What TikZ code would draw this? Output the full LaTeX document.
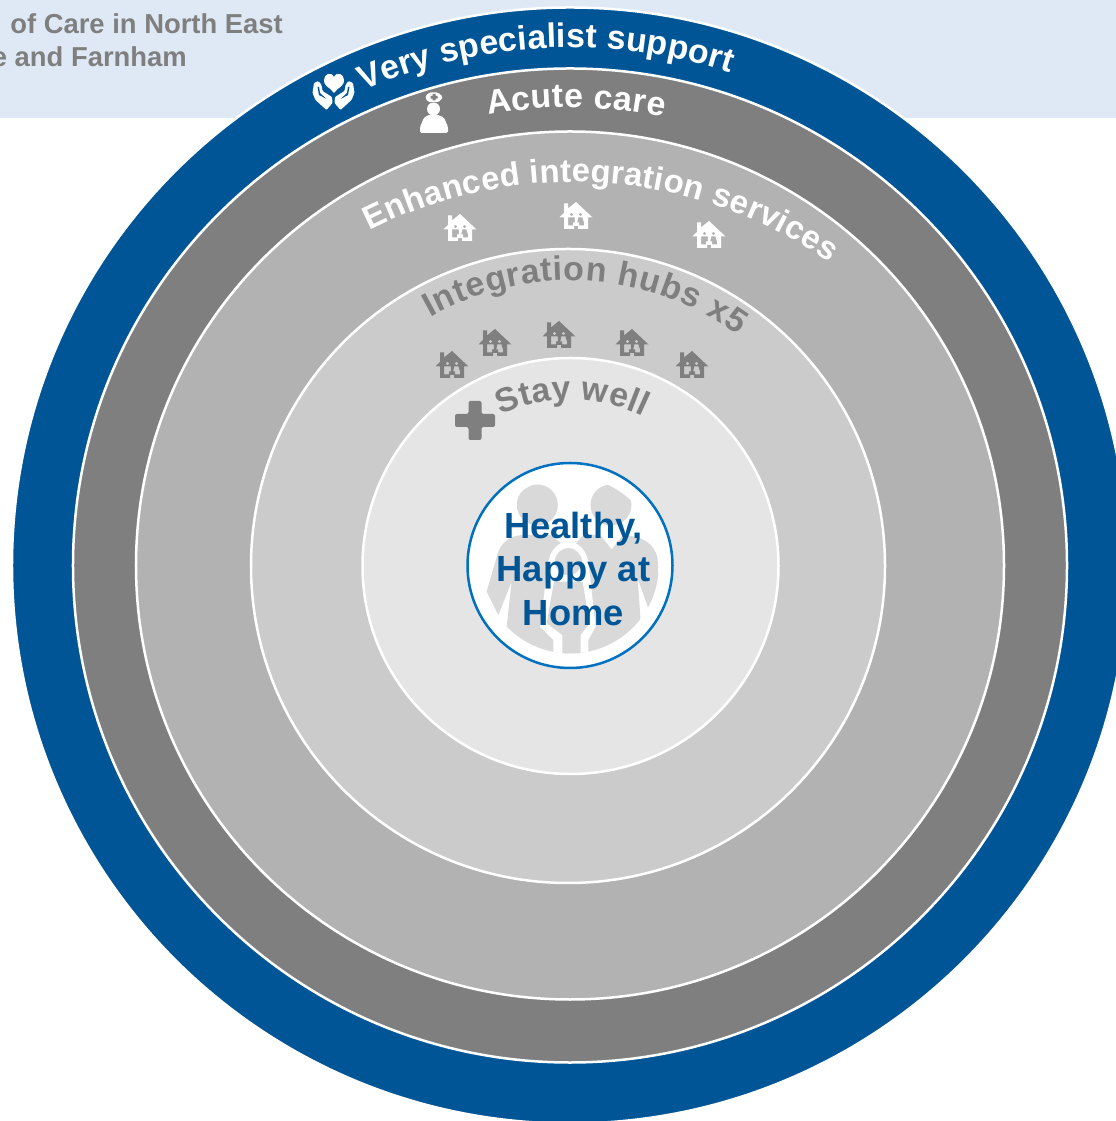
\documentclass[tikz,border=0pt]{standalone}
\usepackage{fontspec}
\setmainfont{Liberation Sans}
\usetikzlibrary{decorations.text}
\definecolor{bandblue}{HTML}{DFE9F5}
\definecolor{deepblue}{HTML}{005596}
\definecolor{edgeblue}{HTML}{0070C0}
\definecolor{acutegrey}{HTML}{7F7F7F}
\definecolor{enhancedgrey}{HTML}{B2B2B2}
\definecolor{hubgrey}{HTML}{CBCBCB}
\definecolor{staygrey}{HTML}{E5E5E5}
\definecolor{peoplegrey}{HTML}{D9D9D9}
\newcommand{\ringfont}{\fontsize{34}{34}\selectfont\bfseries}
\newcommand{\enhancedfont}{\fontsize{33}{33}\selectfont\bfseries}
\newcommand{\homeicon}[3]{%
  \fill[#3,even odd rule,shift={(#1bp,#2bp)},x=1bp,y=1bp]
    (-12,0) -- (-12,11.5) -- (-16.5,11.5) -- (-12,16) -- (-12,25.5) -- (-8,25.5) -- (-8,20.5) -- (0,27)
    -- (16.5,11.5) -- (12,11.5) -- (12,0) -- (2,0) -- (2,3) -- (-2,3) -- (-2,0) -- cycle
    (-4.5,14.5) circle (1.9bp) (4.5,14.5) circle (1.9bp)
    (-8,3.5) -- (-8,11.5) -- (-1.2,11.5) -- (-1.2,6.5) -- (-3,6.5) -- (-3,3.5) -- cycle
    (8,3.5) -- (8,6.5) -- (6.5,11.5) -- (2.2,11.5) -- (1.2,6.5) -- (3,6.5) -- (3,3.5) -- cycle;}
\tikzset{
  ring/.style={circle,draw=white,line width=2.5bp,inner sep=0pt,minimum size=#1},
  ringtext/.style={decorate,shift={(hub)}},
}
\begin{document}
\begin{tikzpicture}[x=1bp,y=1bp]
\useasboundingbox (0,0) rectangle (1116,1121);
\fill[bandblue] (0,1003) rectangle (1116,1121);
\node (note_a) at (283,1087) [anchor=base east,inner sep=0pt,text=acutegrey,font=\fontsize{27.5}{27.5}\selectfont\bfseries] {of Care in North East};
\node (note_b) at (187,1054) [anchor=base east,inner sep=0pt,text=acutegrey,font=\fontsize{27.5}{27.5}\selectfont\bfseries] {e and Farnham};
%%
\coordinate (hub) at (570,555.5);
\node (ring_special) at (hub) [ring=1116bp,fill=deepblue] {};
\node (ring_acute) at (hub) [ring=994bp,fill=acutegrey] {};
\node (ring_enhanced) at (hub) [ring=868bp,fill=enhancedgrey] {};
\node (ring_hubs) at (568,555) [ring=634bp,fill=hubgrey] {};
\node (ring_stay) at (570.5,555) [ring=416bp,fill=staygrey] {};
\node (ring_home) at (hub) [circle,draw=edgeblue,line width=2.5bp,fill=white,inner sep=0pt,minimum size=205bp] {};
%% people behind the home text
\begin{scope}[shift={(450,671)},x=0.3333bp,y=-0.3333bp]
\clip (361,345) circle (88.5bp);
\fill[peoplegrey] (262,165) circle (20.5bp) (483,165) circle (20.5bp);
\fill[peoplegrey] (110,425) -- (145,305) .. controls (160,268) and (190,255) .. (225,255) -- (300,255) -- (360,300) -- (360,630) -- (150,630) -- (170,530) -- (185,395) -- (145,495) -- cycle;
\fill[peoplegrey] (632,420) -- (622,320) .. controls (610,285) and (590,262) .. (520,255) -- (485,298) -- (450,255) -- (400,255) -- (360,300) -- (360,630) -- (580,630) -- (563,385) -- (597,480) -- cycle;
\fill[white] (310,630) -- (310,570) -- (270,530) -- (293,350) .. controls (300,250) and (410,250) .. (417,350) -- (437,530) -- (415,570) -- (415,630) -- cycle;
\fill[peoplegrey] (355,335) circle (13.5bp);
\fill[peoplegrey] (312,395) -- (398,395) -- (418,520) -- (392,555) -- (392,630) -- (337,630) -- (337,555) -- (290,520) -- cycle;
\end{scope}
\node (home_text) at (573.5,552) [align=center,inner sep=0pt,text=deepblue,font=\fontsize{36.5}{44}\selectfont\bfseries] {Healthy,\\Happy at\\Home};
%%
\path[ringtext,decoration={text along path,text color=white,text align=fit to path,text={|\ringfont|Very specialist support}}] (113.5:518) arc[start angle=113.5,end angle=72,radius=518];
\path[ringtext,decoration={text along path,text color=white,text align=fit to path,text={|\ringfont|Acute care}}] (100.3:458) arc[start angle=100.3,end angle=78.2,radius=458];
\path[decorate,shift={(573,490)},decoration={text along path,text color=white,text align=fit to path,text={|\enhancedfont|Enhanced integration services}}] (116.9:449) arc[start angle=116.9,end angle=55.2,radius=449];
\path[ringtext,decoration={text along path,text color=acutegrey,text align=fit to path,text={|\ringfont|Integration hubs x5}}] (119.4:285) arc[start angle=119.4,end angle=54,radius=285];
\path[ringtext,decoration={text along path,text color=acutegrey,text align=fit to path,text={|\ringfont|Stay well}}] (114.7:165.5) arc[start angle=114.7,end angle=63.9,radius=165.5];
%%
\foreach \hx/\hy in {460/880,576/892,709/873} {\homeicon{\hx}{\hy}{white}}
\foreach \hx/\hy in {452/743,495/765,559/773,632/765,692/743} {\homeicon{\hx}{\hy}{acutegrey}}
%% cross
\fill[acutegrey,rounded corners=2bp] (468.5,681) -- (481.5,681) -- (481.5,694) -- (495,694) -- (495,707) -- (481.5,707) -- (481.5,720) -- (468.5,720) -- (468.5,707) -- (455,707) -- (455,694) -- (468.5,694) -- cycle;
%% nurse
\fill[white] (433.5,1012) circle (6.5bp);
\fill[white,rounded corners=1.5bp] (425,1024) -- (428,1019) -- (439,1019) -- (443,1024) -- (438,1028.5) -- (429,1028.5) -- cycle;
\fill[acutegrey] (432.5,1020.5) rectangle (435.5,1027) (430.5,1022.3) rectangle (437.5,1025);
\fill[white,rounded corners=1.5bp] (420,988) -- (420,994) -- (424,1003.5) -- (430,1006.5) -- (437,1006.5) -- (444,1003.5) -- (448,994) -- (448,988) -- cycle;
%% heart in hands
\fill[white] (334,1028) .. controls (330,1034) and (324,1034) .. (324,1041) .. controls (324,1047) and (331,1050) .. (334,1044) .. controls (337,1050) and (344,1047) .. (344,1041) .. controls (344,1034) and (338,1034) .. (334,1028) -- cycle;
\foreach \hs in {1,-1} {
  \fill[white,rounded corners=1bp,shift={(333.5,1031)},xscale=\hs] (-19.5,7) -- (-15,9) -- (-12,5) -- (-11,-1) -- (-1.5,-7) -- (-1,-13) -- (-7,-20) -- (-18,-10) -- (-21,-3) -- cycle;
  \fill[deepblue,shift={(333.5,1031)},xscale=\hs] (-16,3) -- (-14.5,3) -- (-13.5,-3) -- (-7,-9) -- (-14.5,-5) -- cycle;
}
\end{tikzpicture}
\end{document}
